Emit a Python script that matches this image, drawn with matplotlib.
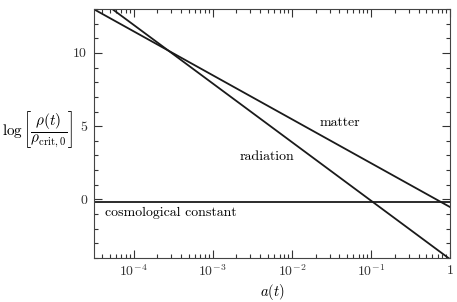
import numpy as np
import matplotlib
matplotlib.use("Agg")
import matplotlib.pyplot as plt
from matplotlib.ticker import LogLocator, MultipleLocator, NullFormatter

plt.rcParams['font.family'] = 'serif'
plt.rcParams['font.serif'] = ['cmr10', 'DejaVu Serif']
plt.rcParams['mathtext.fontset'] = 'cm'
plt.rcParams['axes.formatter.use_mathtext'] = True
plt.rcParams['font.size'] = 10

# data: endpoints of straight lines in log-log space
a_points = [10**-4.5, 1.0]
matter = [12.98, -0.52]
radiation = [13.92, -4.08]
cosmological_constant = [-0.155, -0.155]

labels = ["matter", "radiation", "cosmological constant"]
label_pos_a = [10**-1.39, 10**-2.32, 10**-4.36]
label_pos_y = [5.25, 2.9, -0.95]

fig = plt.figure(figsize=(4.57, 3.02), dpi=100)
ax = fig.add_axes([94/457, 1-258/302, (450-94)/457, (258-9)/302])

for y in (matter, radiation, cosmological_constant):
    ax.plot(a_points, y, color='#1a1a1a', lw=1.3)

ax.set_xscale('log')
ax.set_xlim(10**-4.5, 1)
ax.set_ylim(-4, 13)

ax.text(label_pos_a[0], label_pos_y[0], labels[0], ha='center', va='center')
ax.text(label_pos_a[1], label_pos_y[1], labels[1], ha='center', va='center')
ax.text(label_pos_a[2], label_pos_y[2], labels[2], ha='left', va='center')

ax.xaxis.set_minor_locator(LogLocator(base=10, subs=np.arange(2, 10), numticks=20))
ax.xaxis.set_minor_formatter(NullFormatter())
ax.set_xticks([1e-4, 1e-3, 1e-2, 1e-1, 1])
ax.set_xticklabels([r'$10^{-4}$', r'$10^{-3}$', r'$10^{-2}$', r'$10^{-1}$', r'$1$'])
ax.yaxis.set_minor_locator(MultipleLocator(1))
ax.set_yticks([0, 5, 10])
ax.set_yticklabels(['0', '5', '10'])

ax.tick_params(which='both', direction='in', top=True, right=True, width=0.8, colors='#333333', labelcolor='#333333')
ax.tick_params(which='major', length=6, pad=5)
ax.tick_params(axis='x', which='major', pad=4)
ax.tick_params(which='minor', length=3)
for s in ax.spines.values():
    s.set_linewidth(0.8)
    s.set_color('#444444')

ax.set_xlabel(r'$a(t)$', fontsize=10.5, labelpad=2)
ax.set_ylabel(r'$\log\left[\dfrac{\rho(t)}{\rho_{\rm crit,0}}\right]$', rotation=0, fontsize=11, ha='right', va='center')
ax.yaxis.set_label_coords(-0.058, 0.515)

fig.savefig('out.png', dpi=100)
